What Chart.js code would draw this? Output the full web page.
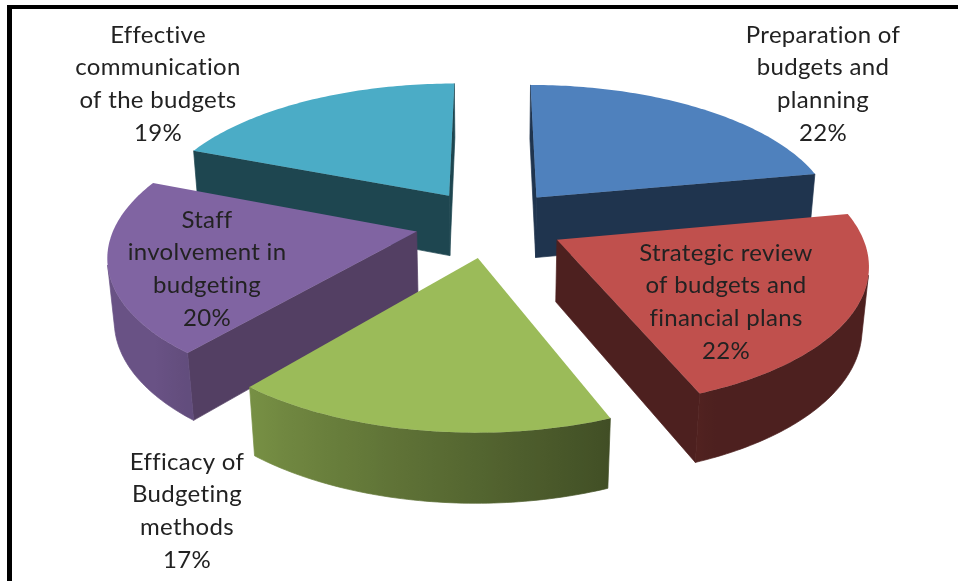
<!DOCTYPE html>
<html>
<head>
<meta charset="utf-8">
<title>Budgeting pie</title>
<script src="https://cdn.jsdelivr.net/npm/chart.js@4"></script>
<style>
    html, body { margin: 0; background: #fff; }
    #wrap { position: relative; width: 958px; height: 581px; overflow: hidden; }
    #frame { position: absolute; left: 7px; top: 5px; right: 0; bottom: -10px; border-top: 4px solid #000; border-left: 5px solid #000; }
    canvas { position: absolute; left: 0; top: 0; filter: blur(0.4px); }
</style>
</head>
<body>
<div id="wrap">
    <div id="frame"></div>
    <canvas id="chartBudget" width="958" height="581"></canvas>
</div>
<script>
const categories = [
    'Preparation of\nbudgets and\nplanning',
    'Strategic review\nof budgets and\nfinancial plans',
    'Efficacy of\nBudgeting\nmethods',
    'Staff\ninvolvement in\nbudgeting',
    'Effective\ncommunication\nof the budgets'
];
const values = [22, 22, 17, 20, 19];

const colores = ['#4f81bd', '#c0504d', '#9bbb59', '#8064a2', '#4bacc6'];
const faceColors = ['#1f344e', '#4d201f', '#3e4a23', '#533f63', '#1e4650'];
const labelPos = [[823, 35], [726, 253], [187, 462], [207, 220], [158, 35]];

// 3d look: tilted plane with some perspective
const tilt = 27 * Math.PI / 180;
const camDist = 1780;
const depth = 70;

function project(arc, x, back, h) {
    const d = camDist + back * Math.cos(tilt) - h * Math.sin(tilt);
    const k = camDist / d;
    return [arc.x + x * k, arc.y - (back * Math.sin(tilt) + h * Math.cos(tilt)) * k];
}

function shade(hex, f) {
    const n = parseInt(hex.slice(1), 16);
    return `rgb(${(n >> 16) * f},${((n >> 8) & 255) * f},${(n & 255) * f})`;
}

// outer wall gets lighter towards the left side
function wallFactor(angle) {
    const deg = ((angle + Math.PI / 2) * 180 / Math.PI + 360) % 360;
    return Math.min(0.82, Math.max(0.4, 0.4 + (deg - 155) * 0.4 / 70));
}

function areaOf(p) {
    let area = 0;
    p.forEach((a, i) => {
        const b = p[(i + 1) % p.length];
        area += a[0] * b[1] - b[0] * a[1];
    });
    return area;
}

function poly(ctx, p, color, seam) {
    ctx.fillStyle = color;
    ctx.beginPath();
    p.forEach((a, i) => i ? ctx.lineTo(a[0], a[1]) : ctx.moveTo(a[0], a[1]));
    ctx.closePath();
    ctx.fill();
    if (seam) {
        // same colour outline so no white shows between the faces
        ctx.strokeStyle = color;
        ctx.lineWidth = 0.7;
        ctx.stroke();
    }
}

function face(ctx, p, color) {
    if (areaOf(p) < 0) poly(ctx, p, color, true);
}

const pie3d = {
    id: 'pie3d',
    beforeDatasetDraw(chart) {
        const ctx = chart.ctx;
        const arcs = chart.getDatasetMeta(0).data;
        const order = arcs.map((a, i) => i).sort((a, b) => {
            const mid = i => (arcs[i].startAngle + arcs[i].endAngle) / 2;
            return Math.sin(mid(b)) < Math.sin(mid(a)) ? 1 : -1;
        });

        order.forEach(i => {
            const arc = arcs[i];
            const r = arc.outerRadius;
            const mid = (arc.startAngle + arc.endAngle) / 2;
            const ox = Math.cos(mid) * arc.options.offset;
            const oy = Math.sin(mid) * arc.options.offset;
            const at = (a, rad, h) => project(arc, ox + Math.cos(a) * rad, -(oy + Math.sin(a) * rad), h);

            // radial faces
            face(ctx, [at(0, 0, 0), at(arc.startAngle, r, 0), at(arc.startAngle, r, -depth), at(0, 0, -depth)], faceColors[i]);
            face(ctx, [at(arc.endAngle, r, 0), at(0, 0, 0), at(0, 0, -depth), at(arc.endAngle, r, -depth)], faceColors[i]);

            // curved wall, only the part facing us, one polygon with a gradient
            const steps = Math.ceil((arc.endAngle - arc.startAngle) * 180 / Math.PI);
            const da = (arc.endAngle - arc.startAngle) / steps;
            const shown = [];
            for (let s = 0; s <= steps; s++) {
                const a = arc.startAngle + s * da;
                if (areaOf([at(a, r, 0), at(a + da, r, 0), at(a + da, r, -depth), at(a, r, -depth)]) < 0 ||
                    areaOf([at(a - da, r, 0), at(a, r, 0), at(a, r, -depth), at(a - da, r, -depth)]) < 0) {
                    shown.push(a);
                }
            }
            if (shown.length > 1) {
                const x0 = at(shown[0], r, 0)[0];
                const x1 = at(shown[shown.length - 1], r, 0)[0];
                const grad = ctx.createLinearGradient(x0, 0, x1, 0);
                shown.forEach(a => {
                    const t = Math.min(1, Math.max(0, (at(a, r, 0)[0] - x0) / ((x1 - x0) || 1)));
                    grad.addColorStop(t, shade(colores[i], wallFactor(a)));
                });
                const pts = shown.map(a => at(a, r, 0)).concat(shown.slice().reverse().map(a => at(a, r, -depth)));
                poly(ctx, pts, grad, true);
            }

            // top
            const top = [at(0, 0, 0)];
            for (let s = 0; s <= steps; s++) {
                top.push(at(arc.startAngle + s * da, r, 0));
            }
            poly(ctx, top, colores[i], false);
        });

        // labels
        ctx.fillStyle = '#222';
        ctx.font = '24px Lato';
        ctx.letterSpacing = '0.3px';
        ctx.textAlign = 'center';
        ctx.textBaseline = 'middle';
        categories.forEach((c, i) => {
            const lines = c.split('\n').concat(values[i] + '%');
            lines.forEach((t, j) => ctx.fillText(t, labelPos[i][0], labelPos[i][1] + j * 32.7));
        });
        return false;
    }
};

new Chart(document.getElementById('chartBudget'), {
    type: 'pie',
    data: {
        labels: categories,
        datasets: [{
            data: values,
            backgroundColor: colores,
            borderWidth: 0,
            offset: 75
        }]
    },
    options: {
        responsive: false,
        animation: false,
        radius: 301,
        layout: { padding: { left: 22, bottom: 135 } },
        plugins: {
            legend: { display: false },
            tooltip: { enabled: false }
        }
    },
    plugins: [pie3d]
});
</script>
</body>
</html>
